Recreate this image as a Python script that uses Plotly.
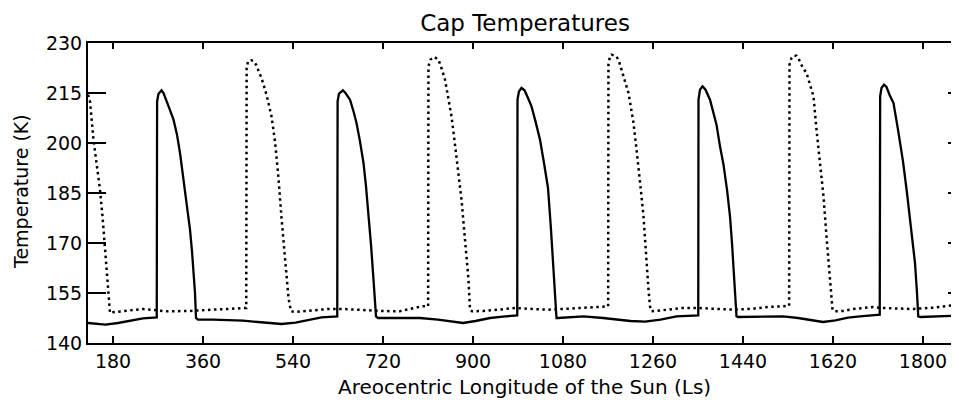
import plotly.graph_objects as go

# ---- data (Ls in degrees, temperature in K) ----
ls_solid = [130, 150, 165, 190, 215, 240, 267.5,
            268.2, 271, 277, 281, 288, 295, 301, 308, 314, 319, 324, 329, 334, 338, 341, 344, 346, 350,
            380, 410, 440, 470, 495, 517, 545, 570, 597, 628.5,
            629.2, 632, 640, 645, 654, 661, 667, 674, 681, 686, 691, 696, 701, 704, 706, 710,
            750, 794, 830, 860, 880, 905, 934, 960, 984, 988.5,
            989, 992, 997, 1003, 1010, 1017, 1025, 1034, 1042, 1050, 1056, 1061, 1064, 1067, 1070,
            1121, 1160, 1187, 1215, 1244, 1275, 1307, 1347, 1350.5,
            1351, 1354, 1359, 1365, 1374, 1381, 1387, 1394, 1401, 1408, 1414, 1418, 1421, 1424, 1427, 1430,
            1460, 1490, 1520, 1550, 1575, 1600, 1625, 1650, 1674, 1700, 1713.5,
            1714.3, 1717, 1722, 1727, 1733, 1741, 1750, 1760, 1768, 1777, 1784, 1788, 1790.5, 1795, 1830, 1871]
t_solid = [146.0, 145.6, 145.5, 146.0, 146.8, 147.4, 147.7,
           212.5, 214.8, 215.8, 215.0, 212.5, 209.5, 207.0, 202.5, 197.0, 191.5, 186.0, 180.0, 174.0, 167.5, 162.0, 155.0, 147.5, 147.0,
           147.0, 146.9, 146.7, 146.3, 145.9, 145.7, 146.1, 146.9, 147.7, 148.0,
           212.5, 214.8, 215.8, 215.0, 213.0, 209.5, 206.0, 200.5, 194.0, 187.0, 179.0, 169.5, 159.0, 153.0, 148.0, 147.5,
           147.5, 147.5, 147.0, 146.4, 146.0, 146.6, 147.5, 147.9, 148.2, 148.3,
           213.0, 215.5, 216.5, 215.8, 213.5, 211.0, 206.5, 201.0, 194.0, 186.5, 174.0, 162.0, 155.0, 147.5, 147.5,
           148.0, 147.5, 147.0, 146.6, 146.4, 147.0, 148.0, 148.2, 148.3,
           213.0, 216.0, 217.0, 216.0, 213.0, 208.5, 205.5, 199.0, 193.5, 186.0, 178.0, 170.0, 163.5, 156.0, 148.0, 147.8,
           147.9, 148.0, 148.0, 147.5, 146.8, 146.3, 146.8, 147.6, 148.0, 148.3, 148.5,
           214.0, 216.5, 217.5, 216.8, 214.5, 212.0, 204.0, 194.5, 185.0, 174.0, 164.0, 155.0, 148.0, 147.8, 148.0, 148.2]

ls_dot = [130, 134, 141, 148, 154, 159, 164, 168, 171, 174, 178,
          200, 240, 287, 330, 380, 420, 444, 446.5,
          447.3, 450, 456, 461, 466, 471, 477, 487, 497, 504, 511, 517, 524, 531, 536,
          545, 580, 610, 640, 680, 720, 753, 780, 797, 810.3,
          810.9, 815, 821, 826, 831, 838, 844, 850, 857, 862, 867, 872, 877, 884, 891, 894, 898,
          920, 950, 985, 1020, 1050, 1080, 1110, 1140, 1170.3,
          1170.9, 1174, 1177, 1183, 1187, 1192, 1197, 1204, 1211, 1216, 1221, 1226, 1231, 1236, 1241, 1247, 1251, 1254, 1257,
          1290, 1317, 1350, 1383, 1420, 1460, 1490, 1520, 1532.3,
          1533, 1537, 1541, 1547, 1552, 1560, 1567, 1574, 1581, 1587, 1594, 1601, 1607, 1614, 1619, 1623,
          1640, 1660, 1680, 1700, 1720, 1750, 1780, 1820, 1850, 1871]
t_dot = [214.5, 212.5, 201.0, 193.5, 186.0, 178.0, 169.0, 161.0, 155.0, 149.0, 149.2,
         149.5, 150.2, 149.5, 149.6, 150.0, 150.3, 150.5, 150.5,
         222.5, 224.5, 224.8, 224.7, 223.5, 221.5, 219.5, 214.5, 208.0, 200.5, 189.5, 177.5, 165.5, 153.5, 149.5,
         149.3, 149.8, 150.2, 150.2, 149.8, 149.6, 149.5, 150.3, 151.0, 151.0,
         223.0, 225.0, 225.8, 225.5, 225.0, 222.0, 219.0, 214.0, 208.0, 202.0, 196.0, 189.5, 183.0, 171.0, 159.0, 150.0, 149.5,
         149.6, 150.0, 150.5, 150.2, 150.0, 150.2, 150.5, 150.8, 151.0,
         223.5, 226.0, 226.5, 226.3, 226.0, 224.5, 222.0, 218.5, 215.0, 210.5, 206.0, 199.5, 193.0, 185.5, 178.0, 163.0, 156.0, 151.0, 149.5,
         150.0, 150.5, 150.5, 150.3, 150.0, 150.3, 150.8, 151.0, 151.2,
         223.5, 225.5, 226.2, 226.2, 225.0, 222.5, 221.0, 217.5, 214.0, 204.0, 194.0, 184.0, 172.0, 158.0, 150.0, 149.5,
         149.6, 150.2, 150.6, 150.8, 150.5, 150.3, 150.2, 150.6, 151.0, 151.5]

x_ticks = [180, 360, 540, 720, 900, 1080, 1260, 1440, 1620, 1800]
y_ticks = [140, 155, 170, 185, 200, 215, 230]
y_ticks_right = [155, 170, 185, 200, 215]

title_text = "Cap Temperatures"
x_title = "Areocentric Longitude of the Sun (Ls)"
y_title = "Temperature (K)"

FONT = "DejaVu Sans"

# The page body has an 8px default margin, so the figure is sized to fill
# the remaining 951x392 area of the 959x400 window.
OFF = 8
W, H = 959 - OFF, 400 - OFF
ML, MT, MB, MR = 88 - OFF, 43 - OFF, 57, 0
PW, PH = W - ML - MR, H - MT - MB

fig = go.Figure()
fig.add_trace(go.Scatter(x=ls_dot, y=t_dot, mode="lines",
                         line=dict(color="black", width=2.5, dash="2.5px,3.5px"),
                         showlegend=False, hoverinfo="skip"))
fig.add_trace(go.Scatter(x=ls_solid, y=t_solid, mode="lines",
                         line=dict(color="black", width=2.3),
                         showlegend=False, hoverinfo="skip"))
# dummy trace to instantiate the overlay (top / right) axes
fig.add_trace(go.Scatter(x=[None], y=[None], xaxis="x2", yaxis="y2",
                         mode="lines", showlegend=False, hoverinfo="skip"))

fig.update_layout(
    width=W, height=H,
    margin=dict(l=ML, r=MR, t=MT, b=MB, pad=0),
    paper_bgcolor="white", plot_bgcolor="white",
    font=dict(family=FONT, color="black", size=19),
    title=dict(text=title_text, x=(525 - 88) / 871, xref="paper", xanchor="center",
               y=1 - (23 - OFF) / H, yref="container", yanchor="middle",
               font=dict(family=FONT, size=23, color="black")),
    xaxis=dict(range=[130, 1872], tickvals=x_ticks, ticktext=[str(v) for v in x_ticks],
               ticks="inside", ticklen=7, tickwidth=2, tickcolor="black",
               showline=True, linewidth=2, linecolor="black", mirror=True,
               showgrid=False, zeroline=False,
               tickfont=dict(family=FONT, size=19, color="black")),
    xaxis2=dict(matches="x", overlaying="x", side="top", anchor="y",
                tickvals=x_ticks, ticks="inside", ticklen=6, tickwidth=2, tickcolor="black",
                showticklabels=False, showline=False, showgrid=False, zeroline=False),
    yaxis=dict(range=[140, 230], tickvals=y_ticks, ticktext=[str(v) for v in y_ticks],
               ticks="inside", ticklen=18, tickwidth=2, tickcolor="black",
               showline=True, linewidth=2, linecolor="black", mirror=False,
               showgrid=False, zeroline=False,
               tickfont=dict(family=FONT, size=19, color="black")),
    yaxis2=dict(matches="y", overlaying="y", side="right", anchor="x",
                tickvals=y_ticks_right, ticks="inside", ticklen=11, tickwidth=2, tickcolor="black",
                showticklabels=False, showline=False, showgrid=False, zeroline=False),
    annotations=[
        dict(text=x_title, xref="paper", yref="paper",
             x=(524 - 88) / PW, y=(343 - 387) / PH,
             showarrow=False, xanchor="center", yanchor="middle",
             font=dict(family=FONT, size=20, color="black")),
        dict(text=y_title, xref="paper", yref="paper",
             x=(21 - 88) / PW, y=(343 - 192) / PH,
             showarrow=False, textangle=-90, xanchor="center", yanchor="middle",
             font=dict(family=FONT, size=19, color="black")),
    ],
)

fig.write_html("out.html")
